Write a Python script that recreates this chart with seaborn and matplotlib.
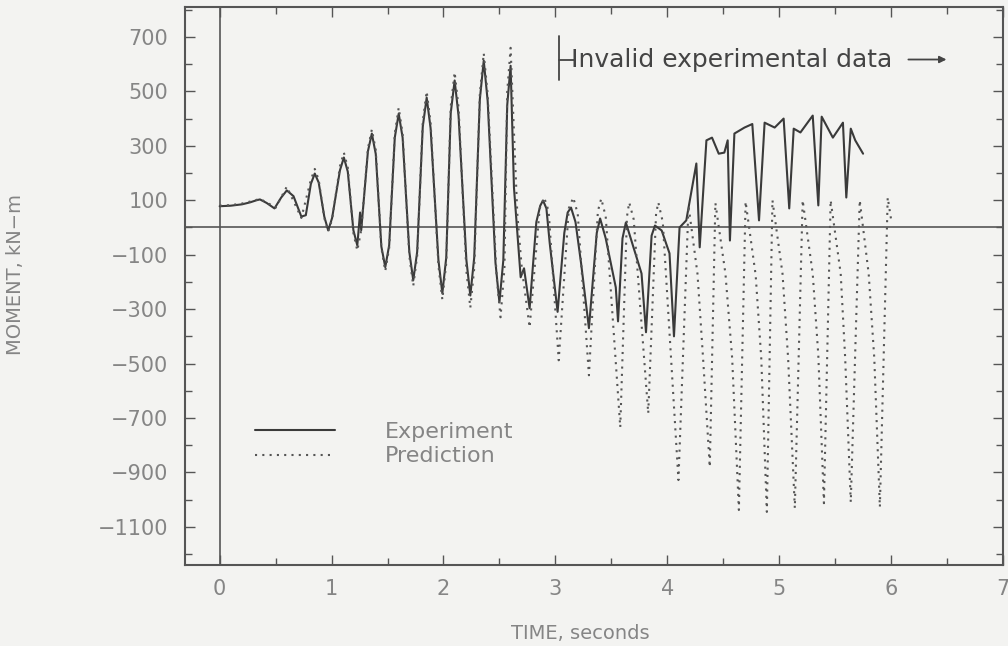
import numpy as np
import pandas as pd
import seaborn as sns
import matplotlib.pyplot as plt

# experiment trace (time in s, moment in kN-m)
exp_time = [0.0, 0.1, 0.2, 0.27, 0.33, 0.36, 0.42, 0.49, 0.55, 0.6, 0.66, 0.73, 0.77,
            0.815, 0.85, 0.885, 0.935, 0.97, 1.005, 1.075, 1.11, 1.145, 1.195, 1.23,
            1.255, 1.265, 1.325, 1.36, 1.395, 1.445, 1.48, 1.515, 1.565, 1.6, 1.635,
            1.695, 1.73, 1.765, 1.815, 1.85, 1.885, 1.955, 1.99, 2.025, 2.065, 2.1,
            2.135, 2.205, 2.24, 2.275, 2.325, 2.36, 2.395, 2.465, 2.5, 2.535, 2.57,
            2.6, 2.63, 2.65, 2.69, 2.72, 2.77, 2.83, 2.865, 2.89, 2.92, 2.95, 3.02,
            3.08, 3.11, 3.14, 3.18, 3.23, 3.3, 3.37, 3.4, 3.45, 3.54, 3.56, 3.6, 3.63,
            3.77, 3.81, 3.86, 3.89, 3.95, 4.02, 4.06, 4.11, 4.17, 4.26, 4.29, 4.35,
            4.4, 4.46, 4.51, 4.54, 4.56, 4.6, 4.69, 4.76, 4.82, 4.87, 4.96, 5.04, 5.09,
            5.13, 5.19, 5.3, 5.35, 5.38, 5.48, 5.57, 5.6, 5.64, 5.68, 5.75]
exp_moment = [78, 80, 85, 92, 100, 103, 90, 70, 110, 136, 115, 40, 45,
              160, 198, 165, 40, -11, 35, 210, 257, 205, -10, -66,
              55, -10, 280, 345, 270, -70, -146, -65, 330, 418, 330,
              -90, -194, -90, 370, 477, 365, -120, -242, -110, 420, 540,
              410, -120, -250, -110, 470, 613, 465, -130, -275, -120, 450,
              594, 147, 37, -183, -150, -297, 20, 80, 99, 70, -59, -310,
              -20, 55, 73, 20, -132, -370, -20, 33, -40, -220, -345, -40, 18,
              -169, -385, -30, 7, -11, -95, -400, 0, 26, 235, -73, 320,
              330, 271, 275, 320, -48, 345, 367, 380, 26, 385, 367, 400, 70,
              363, 349, 411, 81, 407, 330, 385, 110, 363, 320, 271]

# prediction trace
pred_time = [0.0, 0.1, 0.2, 0.3, 0.36, 0.45, 0.5, 0.6, 0.73, 0.815, 0.85, 0.885,
             0.935, 0.97, 1.005, 1.075, 1.11, 1.145, 1.195, 1.23, 1.265, 1.325, 1.36,
             1.395, 1.445, 1.48, 1.515, 1.565, 1.6, 1.635, 1.695, 1.73, 1.765, 1.815,
             1.85, 1.885, 1.955, 1.99, 2.025, 2.065, 2.1, 2.135, 2.205, 2.24, 2.275,
             2.325, 2.36, 2.395, 2.475, 2.51, 2.545, 2.57, 2.6, 2.63, 2.66, 2.7,
             2.77, 2.86, 2.9, 2.94, 3.03, 3.12, 3.16, 3.2, 3.3, 3.38, 3.41, 3.45,
             3.58, 3.64, 3.66, 3.7, 3.83, 3.9, 3.92, 3.96, 4.1, 4.19,
             4.27, 4.32, 4.38, 4.43, 4.52, 4.58, 4.64, 4.70, 4.79, 4.84, 4.89, 4.94,
             5.03, 5.08, 5.14, 5.21, 5.30, 5.35, 5.40, 5.46, 5.55, 5.59, 5.64, 5.72,
             5.80, 5.85, 5.90, 5.97, 6.0]
pred_moment = [80, 82, 88, 98, 105, 85, 72, 150, 35, 175, 215, 175,
               35, -15, 30, 225, 275, 220, -20, -85, -10, 290, 360,
               285, -75, -160, -75, 345, 440, 345, -105, -215, -105, 390,
               500, 385, -140, -265, -130, 445, 570, 440, -160, -295, -150,
               490, 640, 490, -180, -330, -150, 500, 660, 350, 50, -150,
               -367, 70, 110, 60, -488, 70, 110, 50, -543, 60, 106, 40,
               -734, 40, 92, 30, -683, 50, 92, 20, -928, 80,
               -170, -480, -880, 90, -170, -480, -1038, 95, -175, -480, -1045, 100,
               -170, -480, -1031, 100, -170, -470, -1013, 100, -170, -480, -1009, 100,
               -170, -480, -1027, 110, 30]

series_names = ['Experiment', 'Prediction']

df = pd.concat([
    pd.DataFrame({'time': exp_time, 'moment': exp_moment, 'series': series_names[0]}),
    pd.DataFrame({'time': pred_time, 'moment': pred_moment, 'series': series_names[1]}),
], ignore_index=True)

sns.set_theme(style='ticks')
plt.rcParams['font.family'] = ['DejaVu Sans']
bg = '#f3f3f1'
txt = '#858585'
ink = '#3a3a3a'

fig = plt.figure(figsize=(10.08, 6.46), dpi=100, facecolor=bg)
ax = fig.add_axes([0.1835, 0.1254, 0.8115, 0.8638])
ax.set_facecolor(bg)

sns.lineplot(data=df, x='time', y='moment', hue='series', style='series',
             palette={'Experiment': ink, 'Prediction': '#555555'},
             dashes={'Experiment': '', 'Prediction': (1, 2.5)},
             sort=False, estimator=None, ax=ax, linewidth=1.5)

# reference lines
ax.axhline(0, color='#555555', lw=1.2, zorder=1)
ax.axvline(0, color='#555555', lw=1.2, zorder=1)

ax.set_xlim(-0.31, 7.0)
ax.set_ylim(-1240, 810)
ax.set_xticks(np.arange(0, 8, 1))
ax.set_xticks(np.arange(0.0, 7.01, 0.5), minor=True)
ax.set_yticks(np.arange(-1100, 701, 200))
ax.set_yticks(np.arange(-1200, 801, 100), minor=True)
ax.tick_params(which='both', direction='in', top=True, right=True, colors='#555555',
               labelcolor=txt, labelsize=15)
ax.tick_params(which='major', length=7, width=1)
ax.tick_params(which='minor', length=5, width=1)
ax.tick_params(axis='y', pad=12)
ax.tick_params(axis='x', pad=10)
for s in ax.spines.values():
    s.set_color('#555555')
    s.set_linewidth(1.5)

ax.set_xlabel('TIME, seconds', fontsize=14, color=txt)
ax.set_ylabel('MOMENT, kN\u2212m', fontsize=14, color=txt)
ax.xaxis.set_label_coords(0.483, -0.106)
ax.yaxis.set_label_coords(-0.196, 0.52)

# invalid data marker
ax.plot([3.03, 3.03], [705, 543], color='#444444', lw=1.3)
ax.plot([3.03, 3.17], [617, 617], color='#444444', lw=1.3)
ax.text(3.14, 617, 'Invalid experimental data', fontsize=18, color='#444444',
        va='center', ha='left')
ax.annotate('', xy=(6.52, 617), xytext=(6.13, 617),
            arrowprops=dict(arrowstyle='-|>', color='#444444', lw=1.3, mutation_scale=10))

sns.move_legend(ax, loc='upper left', bbox_to_anchor=(0.0856, 0.257), frameon=False,
                title=None, fontsize=16, handlelength=3.6, handletextpad=2.25,
                labelspacing=0.22, borderpad=0, borderaxespad=0, labelcolor=txt)

fig.savefig('out.png', dpi=100, facecolor=bg)
